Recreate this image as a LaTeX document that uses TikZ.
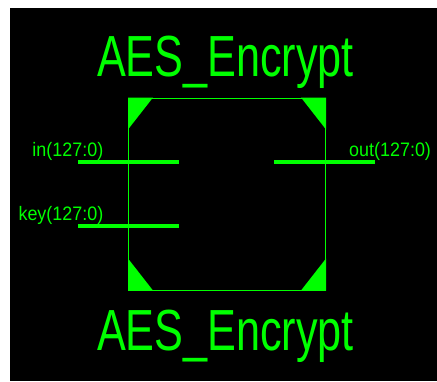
\documentclass[tikz,border=0pt]{standalone}
\usepackage{fontspec}
\newfontfamily\titlefont[FakeStretch=0.745]{Liberation Sans}
\newfontfamily\pinfont[FakeStretch=0.92]{Liberation Sans}
\definecolor{schgreen}{HTML}{00FF00}
\begin{document}
\begin{tikzpicture}[x=1pt,y=-1pt,
  title/.style={text=schgreen,font=\titlefont\fontsize{58}{58}\selectfont,inner sep=0pt,anchor=base},
  pinlabel/.style={text=schgreen,font=\pinfont\fontsize{19.5}{19.5}\selectfont,inner sep=0pt,anchor=base},
  pinwire/.style={draw=schgreen,line width=4pt},
  corner/.style={fill=schgreen}]
  % canvas
  \useasboundingbox (0,0) rectangle (437,381);
  \fill[white] (0,0) rectangle (437,381);
  \fill[black] (10,8) rectangle (437,381);

  % symbol body
  \node[draw=schgreen,line width=1pt,minimum width=197pt,minimum height=192pt,inner sep=0pt] (body) at (227,194) {};
  \fill[corner] (body.north west) -- ++(25,0) -- ++(-25,32) -- cycle;
  \fill[corner] (body.north east) -- ++(-25,0) -- ++(25,32) -- cycle;
  \fill[corner] (body.south west) -- ++(25,0) -- ++(-25,-32) -- cycle;
  \fill[corner] (body.south east) -- ++(-25,0) -- ++(25,-32) -- cycle;

  % instance and cell names
  \node[title] (topname) at (225.5,76) {AES\_Encrypt};
  \node[title] (botname) at (225.5,350) {AES\_Encrypt};

  % pin stubs
  \coordinate (inA) at (78,161.5);  \coordinate (inB) at (179,161.5);
  \coordinate (keyA) at (78,226);   \coordinate (keyB) at (179,226);
  \coordinate (outA) at (274,161.5); \coordinate (outB) at (375,161.5);
  \draw[pinwire] (inA) -- (inB);
  \draw[pinwire] (keyA) -- (keyB);
  \draw[pinwire] (outA) -- (outB);

  % pin names
  \node[pinlabel,anchor=base east] (inlbl) at (103.5,156) {in(127:0)};
  \node[pinlabel,anchor=base east] (keylbl) at (103.5,220) {key(127:0)};
  \node[pinlabel,anchor=base west] (outlbl) at (349,156) {out(127:0)};
\end{tikzpicture}
\end{document}
